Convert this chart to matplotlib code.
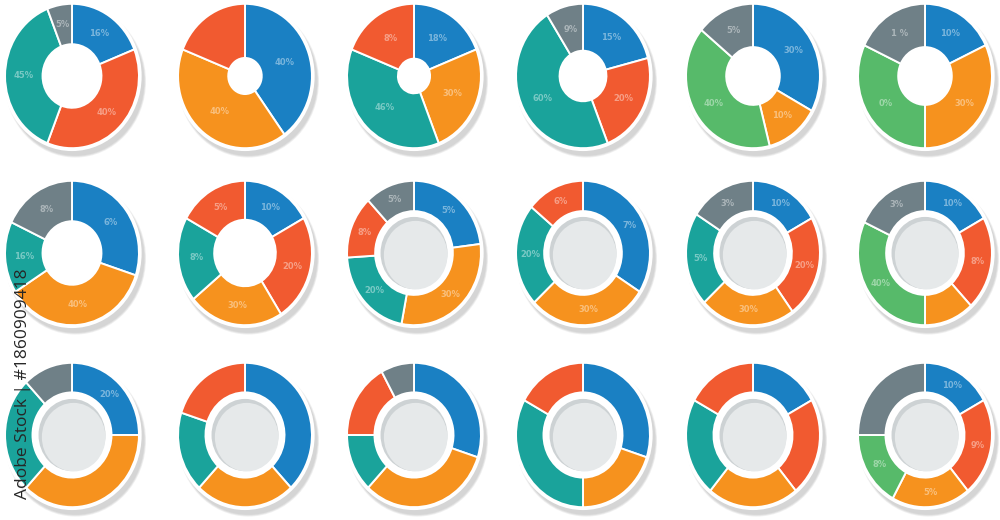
import matplotlib
matplotlib.use('Agg')
import matplotlib.pyplot as plt
from matplotlib.patches import Circle
import numpy as np

# colours of the infographic set
B = '#1a80c3'   # blue
O = '#f6921e'   # orange
R = '#f15a30'   # red
T = '#1aa39b'   # teal
G = '#6f8087'   # grey
N = '#57ba6a'   # green

# slice sizes, clockwise from 12 o'clock, one list per donut (row by row)
sizes = [
    [19, 37, 38, 6], [40, 41, 19], [19, 25, 37, 19],
    [21, 23, 47, 9], [33, 13, 40, 14], [18, 32, 32, 18],
    [30, 36, 16, 18], [17, 24, 23, 19, 17], [23, 30, 21, 14, 12],
    [34, 29, 23, 14], [17, 23, 23, 21, 16], [17, 21, 12, 32, 18],
    [25, 37, 26, 12], [38, 24, 18, 20], [30, 32, 13, 17, 8],
    [30, 20, 33, 17], [17, 22, 22, 22, 17], [17, 22, 19, 17, 25],
]
colours = [
    [B, R, T, G], [B, O, R], [B, O, T, R],
    [B, R, T, G], [B, O, N, G], [B, O, N, G],
    [B, O, T, G], [B, R, O, T, R], [B, O, T, R, G],
    [B, O, T, R], [B, R, O, T, G], [B, R, O, N, G],
    [B, O, T, G], [B, O, T, R], [B, O, T, R, G],
    [B, O, T, R], [B, R, O, T, R], [B, R, O, N, G],
]
labels = [
    ['16%', '40%', '45%', '5%'], ['40%', '40%', ''], ['18%', '30%', '46%', '8%'],
    ['15%', '20%', '60%', '9%'], ['30%', '10%', '40%', '5%'], ['10%', '30%', '0%', '1 %'],
    ['6%', '40%', '16%', '8%'], ['10%', '20%', '30%', '8%', '5%'], ['5%', '30%', '20%', '8%', '5%'],
    ['7%', '30%', '20%', '6%'], ['10%', '20%', '30%', '5%', '3%'], ['10%', '8%', '', '40%', '3%'],
    ['20%', '', '', ''], ['', '', '', ''], ['', '', '', '', ''],
    ['', '', '', ''], ['', '', '', '', ''], ['10%', '9%', '5%', '8%', ''],
]

# hole size (fraction of radius) and whether the hole holds a grey disc
hole = [0.44, 0.25, 0.24, 0.35, 0.40, 0.40,
        0.44, 0.46, 0.58, 0.58, 0.58, 0.58,
        0.59, 0.59, 0.59, 0.59, 0.59, 0.59]
disc = [False] * 8 + [True] * 10

col_x = [72, 245, 414, 583, 753, 925]
row_y = [76, 253, 435]

W, H = 1000, 520
fig = plt.figure(figsize=(10, 5.2), dpi=100)
fig.patch.set_facecolor('white')

LIM = 1.15
ax_w, ax_h = 154, 166   # px; slightly taller than wide, like the reference

for i, (vals, cols, labs) in enumerate(zip(sizes, colours, labels)):
    cx = col_x[i % 6]
    cy = row_y[i // 6]
    ax = fig.add_axes([(cx - ax_w / 2) / W, (H - cy - ax_h / 2) / H, ax_w / W, ax_h / H])

    # soft shadow down-right, then a white rim
    for k, a in enumerate([0.35, 0.55, 0.9]):
        ax.add_patch(Circle((0.05, -0.075), 1.055 - k * 0.012, color='#d4d4d4', alpha=a, lw=0, zorder=0))
    ax.add_patch(Circle((0, 0), 1.04, color='white', lw=0, zorder=1))

    wedges, _ = ax.pie(vals, colors=cols, startangle=90, counterclock=False, radius=1,
                       wedgeprops=dict(width=1 - hole[i], edgecolor='white', linewidth=1.4))
    for w in wedges:
        w.set_zorder(2)

    if disc[i]:
        ax.add_patch(Circle((0, 0), 0.50, color='#cdd2d4', lw=0, zorder=3))
        ax.add_patch(Circle((0.025, -0.03), 0.475, color='#e6e9ea', lw=0, zorder=3))

    # faint labels in the middle of each slice
    total = float(sum(vals))
    start = 0.0
    r_mid = (1 + hole[i]) / 2
    for v, lab in zip(vals, labs):
        mid = np.deg2rad(90 - (start + v / 2) / total * 360)
        start += v
        if lab:
            ax.text(r_mid * np.cos(mid), r_mid * np.sin(mid), lab, ha='center', va='center',
                    fontsize=6, fontweight='bold', color='white', alpha=0.42, zorder=4)

    ax.set_aspect('auto')
    ax.set_xlim(-LIM, LIM)
    ax.set_ylim(-LIM, LIM)
    ax.axis('off')

fig.text(23 / W, 1 - 384 / H, 'Adobe Stock | #1860909418', rotation=90, ha='center', va='center',
         fontsize=12.5, color='#262626', family='Open Sans')

fig.savefig('out.png', dpi=100, facecolor='white')
